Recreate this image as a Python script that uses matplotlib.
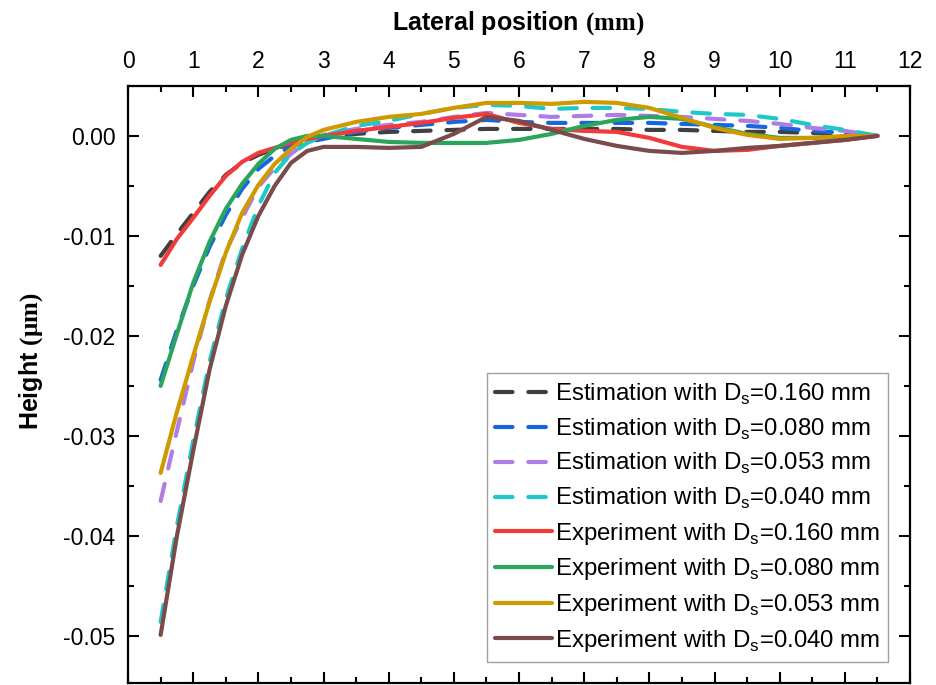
"""Surface height profiles: estimation vs experiment for four sampling distances."""
import matplotlib
matplotlib.use("Agg")
import matplotlib.pyplot as plt
from matplotlib.ticker import MultipleLocator, FuncFormatter

plt.rcParams["font.family"] = ["Liberation Sans", "DejaVu Sans"]
plt.rcParams["mathtext.fontset"] = "custom"
plt.rcParams["mathtext.rm"] = "Liberation Sans"
plt.rcParams["mathtext.bf"] = "Liberation Serif:bold"
plt.rcParams["axes.unicode_minus"] = False

# lateral positions (mm)
x_mm = [0.5, 0.75, 1.0, 1.25, 1.5, 1.75, 2.0, 2.25, 2.5, 2.75, 3.0, 3.5, 4.0, 4.5,
        5.0, 5.5, 6.0, 6.5, 7.0, 7.5, 8.0, 8.5, 9.0, 9.5, 10.0, 10.5, 11.0, 11.5]

est_160 = [-0.0120, -0.0098, -0.0077, -0.0056, -0.0039, -0.0027, -0.0019, -0.0013, -0.0008,
           -0.0004, -0.0001, 0.0002, 0.0004, 0.0005, 0.0006, 0.0007, 0.0007, 0.0007, 0.0007,
           0.0007, 0.0006, 0.0006, 0.0005, 0.0004, 0.0004, 0.0003, 0.0002, 0.0]
est_080 = [-0.0244, -0.0194, -0.0150, -0.0111, -0.0079, -0.0053, -0.0033, -0.0020, -0.0010,
           -0.0006, -0.0003, 0.0004, 0.0008, 0.0011, 0.0014, 0.0016, 0.0014, 0.0013, 0.0013,
           0.0013, 0.0013, 0.0012, 0.0011, 0.0010, 0.0008, 0.0005, 0.0003, 0.0]
est_053 = [-0.0365, -0.0295, -0.0226, -0.0165, -0.0115, -0.0082, -0.0051, -0.0032, -0.0018,
           -0.0006, 0.0001, 0.0007, 0.0011, 0.0014, 0.0019, 0.0023, 0.0021, 0.0019, 0.0020,
           0.0021, 0.0020, 0.0019, 0.0017, 0.0015, 0.0012, 0.0008, 0.0005, 0.0]
est_040 = [-0.0486, -0.0390, -0.0305, -0.0226, -0.0163, -0.0113, -0.0070, -0.0037, -0.0018,
           -0.0007, 0.0000, 0.0010, 0.0015, 0.0022, 0.0028, 0.0031, 0.0030, 0.0027, 0.0028,
           0.0028, 0.0027, 0.0024, 0.0022, 0.0021, 0.0017, 0.0011, 0.0006, 0.0]
exp_160 = [-0.0129, -0.0103, -0.0082, -0.0060, -0.0040, -0.0026, -0.0017, -0.0012, -0.0007,
           -0.0003, 0.0000, 0.0005, 0.0009, 0.0013, 0.0018, 0.0022, 0.0013, 0.0007, 0.0005,
           0.0004, -0.0002, -0.0011, -0.0015, -0.0014, -0.0010, -0.0007, -0.0004, 0.0]
exp_080 = [-0.0250, -0.0198, -0.0147, -0.0106, -0.0073, -0.0048, -0.0028, -0.0013, -0.0004,
           0.0000, 0.0000, -0.0003, -0.0006, -0.0007, -0.0007, -0.0007, -0.0004, 0.0002, 0.0010,
           0.0016, 0.0019, 0.0017, 0.0009, 0.0002, -0.0002, -0.0002, -0.0001, 0.0]
exp_053 = [-0.0337, -0.0276, -0.0220, -0.0166, -0.0117, -0.0077, -0.0049, -0.0028, -0.0013,
           -0.0001, 0.0006, 0.0014, 0.0019, 0.0022, 0.0028, 0.0033, 0.0033, 0.0032, 0.0034,
           0.0033, 0.0028, 0.0018, 0.0008, 0.0001, -0.0003, -0.0002, 0.0000, 0.0]
exp_040 = [-0.0499, -0.0400, -0.0315, -0.0234, -0.0170, -0.0119, -0.0080, -0.0050, -0.0027,
           -0.0015, -0.0011, -0.0011, -0.0012, -0.0011, 0.0002, 0.0019, 0.0015, 0.0006, -0.0003,
           -0.0010, -0.0015, -0.0017, -0.0015, -0.0012, -0.0010, -0.0007, -0.0004, 0.0]

ds_labels = ["0.160", "0.080", "0.053", "0.040"]
est_colours = ["#404040", "#1766e0", "#b07de6", "#1ec8c8"]
exp_colours = ["#f23a3a", "#2ba55c", "#cf9a00", "#7b4a4a"]


def fmt_height(v, _pos):
    if abs(v) < 1e-9:
        v = 0.0
    return f"{v:.2f}"


fig = plt.figure(figsize=(9.36, 6.85), dpi=100)
ax = fig.add_axes([0.1368, 0.003, 0.8355, 0.8716])

for ys, col, ds in zip([est_160, est_080, est_053, est_040], est_colours, ds_labels):
    ax.plot(x_mm, ys, color=col, linewidth=3.0, dashes=(4.2, 3.8), dash_capstyle="round",
            label=rf"Estimation with D$_\mathrm{{s}}$={ds} mm")
for ys, col, ds in zip([exp_160, exp_080, exp_053, exp_040], exp_colours, ds_labels):
    ax.plot(x_mm, ys, color=col, linewidth=3.0, solid_capstyle="round",
            label=rf"Experiment with D$_\mathrm{{s}}$={ds} mm")

ax.set_xlim(0, 12)
ax.set_ylim(-0.0547, 0.005)
ax.xaxis.set_major_locator(MultipleLocator(1))
ax.xaxis.set_minor_locator(MultipleLocator(0.5))
ax.yaxis.set_major_locator(MultipleLocator(0.01))
ax.yaxis.set_minor_locator(MultipleLocator(0.005))
ax.yaxis.set_major_formatter(FuncFormatter(fmt_height))

ax.xaxis.tick_top()
ax.tick_params(which="both", direction="in", width=1.5, top=True, bottom=True,
               left=True, right=True, labeltop=True, labelbottom=False)
ax.tick_params(which="major", length=8, labelsize=16.5, pad=9)
ax.tick_params(which="minor", length=4.5)
for sp in ax.spines.values():
    sp.set_linewidth(1.6)

ax.set_xlabel(r"Lateral position $\mathbf{(mm)}$", fontsize=18, fontweight="bold")
ax.xaxis.set_label_position("top")
ax.xaxis.set_label_coords(0.499, 1.094)
ax.set_ylabel(r"Height $\mathbf{(\mu m)}$", fontsize=18, fontweight="bold")
ax.yaxis.set_label_coords(-0.106, 0.539)

leg = ax.legend(loc="lower right", bbox_to_anchor=(0.972, 0.035), borderaxespad=0,
                fontsize=17.3, handlelength=2.35, handletextpad=0.12, labelspacing=0.4,
                fancybox=False, edgecolor="#a0a0a0", framealpha=1, borderpad=0.35)
leg.get_frame().set_linewidth(1.0)

fig.savefig("out.png", dpi=100)
